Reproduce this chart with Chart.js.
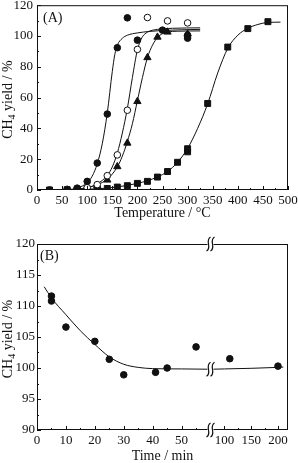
<!DOCTYPE html>
<html>
<head>
<meta charset="utf-8">
<script src="https://cdn.jsdelivr.net/npm/chart.js@4.4.1/dist/chart.umd.min.js"></script>
<style>
  html, body { margin: 0; padding: 0; background: #fff; overflow: hidden; }
  #wrap { position: relative; width: 298px; height: 463px; }
  canvas { position: absolute; left: 0; }
  #chartA { top: 0; }
  #chartB { top: 230px; }
</style>
</head>
<body>
<div id="wrap">
  <canvas id="chartA" width="298" height="230"></canvas>
  <canvas id="chartB" width="298" height="233"></canvas>
</div>
<script>
// ---------- panel (A): CH4 yield vs temperature ----------
const filledT = [25, 60, 80, 100, 120, 140, 160, 180, 200, 250, 300, 300];
const filledY = [0, 0.3, 1.2, 5.6, 17.5, 49.3, 92.4, 111.8, 97.3, 103.8, 100.5, 98.6];
const openT = [60, 80, 100, 120, 140, 160, 180, 200, 220, 260, 300];
const openY = [0, 0.5, 1.5, 3.5, 9.3, 22.8, 51.8, 91.3, 112.0, 109.8, 108.5];
const triT = [60, 80, 100, 120, 140, 160, 180, 200, 220, 240, 260, 300];
const triY = [0, 0.3, 1.0, 2.8, 6.5, 15.2, 30.5, 57.5, 86.0, 99.3, 102.6, 101.3];
const sqT = [25, 60, 80, 100, 120, 140, 160, 180, 200, 220, 240, 260, 280, 300, 300, 340, 380, 420, 460];
const sqY = [0, 0.2, 0.4, 0.6, 0.8, 1.0, 1.9, 2.8, 4.3, 5.6, 8.4, 12.0, 18.0, 24.8, 26.8, 56.2, 92.8, 104.8, 109.3];

// fitted curves
const fitFilledT = [25, 60, 80, 100, 110, 120, 130, 140, 150, 155, 160, 170, 180, 200, 225, 250, 325];
const fitFilledY = [0, 0.3, 1.2, 4.8, 9, 17, 30, 50, 77, 88, 94, 98.5, 100.5, 102, 103, 103.6, 104.3];
const fitOpenT = [25, 60, 100, 120, 140, 150, 160, 170, 180, 190, 200, 205, 210, 220, 240, 270, 325];
const fitOpenY = [0, 0.1, 1.5, 4, 9.5, 15, 24, 37, 53, 73, 91, 96, 99.5, 102.5, 104.3, 105, 105.3];
const fitTriT = [25, 60, 100, 120, 140, 160, 170, 180, 190, 200, 210, 220, 230, 240, 250, 260, 280, 325];
const fitTriY = [0, 0.1, 1.5, 3.5, 7, 15, 22, 31.5, 43, 58, 73, 86, 94, 99, 101.5, 102.6, 103.1, 103.3];
const fitSqT = [25, 100, 140, 160, 180, 200, 220, 240, 260, 280, 300, 320, 340, 360, 380, 400, 420, 440, 460, 485];
const fitSqY = [0, 0.5, 1.2, 2, 3, 4.3, 6, 8.5, 12, 18, 27, 40, 56, 76, 92, 100.5, 105, 107.5, 108.8, 109];

// ---------- panel (B): CH4 yield vs time (broken axis) ----------
const timeMin = [5, 5, 10, 20, 25, 30, 41, 45, 55, 110, 200];
const yieldB = [111.6, 110.8, 106.6, 104.3, 101.4, 98.9, 99.3, 100.0, 103.4, 101.5, 100.3];
const fitTimeT = [2.5, 5, 10, 15, 20, 25, 30, 35, 40, 50, 60, 75, 100, 150, 200, 210];
const fitTimeY = [113.1, 111.3, 108.6, 106.0, 103.8, 101.8, 100.6, 100.1, 99.9, 99.85, 99.8, 99.8, 99.85, 99.95, 100.1, 100.15];
const timeTicks = [0, 10, 20, 30, 40, 50, 100, 150, 200];
const timeMinor = [5, 15, 25, 35, 45, 55, 125, 175];
const breakAt = 60;     // axis is cut between 60 and 74 min
const resumeAt = 74;
const squeeze = 5.4;    // minutes per unit after the break

const INK = '#111';
const FONT = "'Liberation Serif', 'Times New Roman', serif";
Chart.defaults.font.family = FONT;
Chart.defaults.font.size = 13;
Chart.defaults.color = INK;

function toAxis(t) {
  return t <= breakAt ? t : breakAt + (t - resumeAt) / squeeze;
}

function pts(xs, ys, fx) {
  return xs.map((x, i) => ({ x: fx ? fx(x) : x, y: ys[i] }));
}

function marks(data, style, r, fill) {
  return {
    data, pointStyle: style, pointRadius: r, pointHoverRadius: r,
    pointBackgroundColor: fill, pointBorderColor: INK, pointBorderWidth: 1,
    showLine: false, order: 1
  };
}

function curve(data) {
  return {
    data, showLine: true, borderColor: INK, borderWidth: 1, pointRadius: 0,
    cubicInterpolationMode: 'monotone', order: 2
  };
}

function drawYTitle(ctx, cx, cy) {
  ctx.save();
  ctx.translate(cx, cy);
  ctx.rotate(-Math.PI / 2);
  ctx.fillStyle = INK;
  ctx.textBaseline = 'middle';
  ctx.textAlign = 'left';
  const big = '14px ' + FONT, small = '10px ' + FONT;
  ctx.font = big;
  const w1 = ctx.measureText('CH').width;
  const w3 = ctx.measureText(' yield / %').width;
  ctx.font = small;
  const w2 = ctx.measureText('4').width;
  const x0 = -(w1 + w2 + w3) / 2;
  ctx.font = big;
  ctx.fillText('CH', x0, 0);
  ctx.font = small;
  ctx.fillText('4', x0 + w1, 3.5);
  ctx.font = big;
  ctx.fillText(' yield / %', x0 + w1 + w2, 0);
  ctx.restore();
}

function drawBreak(ctx, px, py) {
  ctx.fillStyle = '#fff';
  ctx.fillRect(px - 3, py - 6, 6, 12);
  ctx.beginPath();
  for (const dx of [-2, 2]) {
    ctx.moveTo(px + dx + 2, py - 7);
    ctx.bezierCurveTo(px + dx - 4, py - 3.5, px + dx + 4, py + 3.5, px + dx - 2, py + 7);
  }
  ctx.lineWidth = 1.2;
  ctx.stroke();
}

// frame, inward ticks, panel letter and y title
function frame(o) {
  return {
    id: 'frame',
    afterDatasetsDraw(chart) {
      const { ctx, chartArea: a, scales: { x, y } } = chart;
      ctx.save();
      ctx.strokeStyle = INK;
      ctx.lineWidth = 1;
      ctx.strokeRect(a.left + 0.5, a.top + 0.5, a.width - 1, a.height - 1);
      ctx.beginPath();
      const xt = (vals, len) => vals.forEach(v => {
        const p = Math.round(x.getPixelForValue(v)) + 0.5;
        ctx.moveTo(p, a.bottom); ctx.lineTo(p, a.bottom - len);
      });
      const yt = (vals, len) => vals.forEach(v => {
        const p = Math.round(y.getPixelForValue(v)) + 0.5;
        ctx.moveTo(a.left, p); ctx.lineTo(a.left + len, p);
      });
      xt(o.xMajor, 4); xt(o.xMinor, 2);
      yt(o.yMajor, 4); yt(o.yMinor, 2);
      ctx.stroke();
      if (o.breaks) o.breaks(ctx, chart);
      ctx.fillStyle = INK;
      ctx.font = '14px ' + FONT;
      ctx.textBaseline = 'middle';
      ctx.textAlign = 'left';
      ctx.fillText(o.letter, a.left + o.letterDx, a.top + o.letterDy);
      drawYTitle(ctx, 8.5, (a.top + a.bottom) / 2 + 2);
      ctx.restore();
    }
  };
}

function range(a, b, s) {
  const out = [];
  for (let v = a; v <= b + 1e-9; v += s) out.push(v);
  return out;
}

function xAxis(height, extra) {
  return Object.assign({
    type: 'linear',
    grid: { display: false, drawTicks: false },
    border: { display: false },
    afterFit(s) { s.height = height; s.paddingLeft = 0; s.paddingRight = 0; }
  }, extra);
}

function yAxis(extra) {
  return Object.assign({
    type: 'linear',
    grid: { display: false, drawTicks: false },
    border: { display: false },
    afterFit(s) { s.width = 37; s.paddingTop = 0; s.paddingBottom = 0; }
  }, extra);
}

const common = {
  responsive: false,
  animation: false,
  devicePixelRatio: 1,
  plugins: { legend: { display: false }, tooltip: { enabled: false } }
};

new Chart(document.getElementById('chartA'), {
  type: 'scatter',
  data: {
    datasets: [
      marks(pts(filledT, filledY), 'circle', 3.3, INK),
      marks(pts(openT, openY), 'circle', 3.3, '#fff'),
      marks(pts(triT, triY), 'triangle', 4.2, INK),
      marks(pts(sqT, sqY), 'rect', 4.2, INK),
      curve(pts(fitFilledT, fitFilledY)),
      curve(pts(fitOpenT, fitOpenY)),
      curve(pts(fitTriT, fitTriY)),
      curve(pts(fitSqT, fitSqY))
    ]
  },
  options: Object.assign({}, common, {
    layout: { padding: { top: 4, right: 10, left: 0, bottom: 0 } },
    scales: {
      x: xAxis(40, {
        min: 0, max: 500,
        ticks: { stepSize: 50, padding: 3, autoSkip: false, maxRotation: 0 },
        title: { display: true, text: 'Temperature / °C', font: { size: 14, lineHeight: 1 }, padding: { top: 0, bottom: 10 } }
      }),
      y: yAxis({ min: 0, max: 120, ticks: { stepSize: 20, padding: 4 } })
    }
  }),
  plugins: [frame({
    xMajor: range(0, 500, 50), xMinor: range(25, 475, 50),
    yMajor: range(0, 120, 20), yMinor: range(10, 110, 20),
    letter: '(A)', letterDx: 6, letterDy: 13.5
  })]
});

new Chart(document.getElementById('chartB'), {
  type: 'scatter',
  data: {
    datasets: [
      marks(pts(timeMin, yieldB, toAxis), 'circle', 3.3, INK),
      curve(pts(fitTimeT, fitTimeY, toAxis))
    ]
  },
  options: Object.assign({}, common, {
    layout: { padding: { top: 14, right: 10, left: 0, bottom: 0 } },
    scales: {
      x: xAxis(33, {
        min: 0, max: toAxis(218.7),
        afterBuildTicks(s) { s.ticks = timeTicks.map(t => ({ value: toAxis(t) })); },
        ticks: { padding: 3, autoSkip: false, maxRotation: 0, callback: (v, i) => String(timeTicks[i]) },
        title: { display: true, text: 'Time / min', font: { size: 14, lineHeight: 1 }, padding: { top: 0, bottom: 0 } }
      }),
      y: yAxis({ min: 90, max: 120, ticks: { stepSize: 5, padding: 2 } })
    }
  }),
  plugins: [frame({
    xMajor: timeTicks.map(toAxis), xMinor: timeMinor.map(toAxis),
    yMajor: range(90, 120, 5), yMinor: range(92.5, 117.5, 5),
    letter: '(B)', letterDx: 3, letterDy: 12,
    breaks(ctx, chart) {
      const { chartArea: a, scales: { x, y } } = chart;
      const px = x.getPixelForValue(breakAt);
      drawBreak(ctx, px, a.top);
      drawBreak(ctx, px, a.bottom);
      drawBreak(ctx, px, y.getPixelForValue(fitTimeY[fitTimeT.indexOf(breakAt)]));
    }
  })]
});
</script>
</body>
</html>
